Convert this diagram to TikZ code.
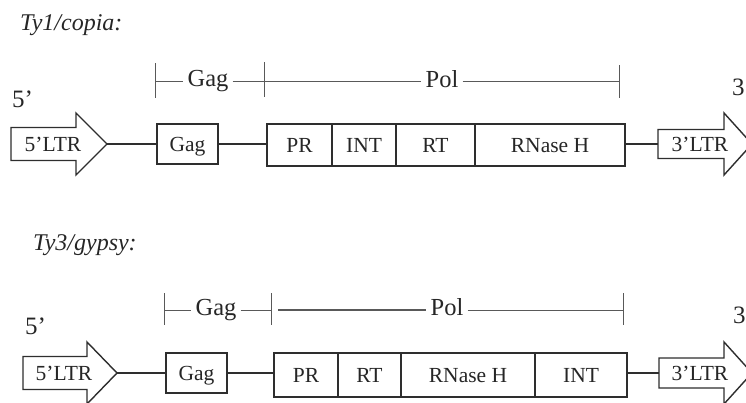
\documentclass[tikz,border=0pt]{standalone}
\usepackage{fontspec}
\setmainfont{Liberation Serif}

% Arrow-shaped LTR block: name, left, neck, tip, centre y, body half-height, head half-height
\newcommand{\ltrshape}[7]{%
  \draw[ink, fill=white] (#2,#5-#6) -- (#3,#5-#6) -- (#3,#5-#7) -- (#4,#5)
    -- (#3,#5+#7) -- (#3,#5+#6) -- (#2,#5+#6) -- cycle;
  \coordinate (#1-tip) at (#4,#5);
  \coordinate (#1-neck) at (#3,#5);
}

\begin{document}
\begin{tikzpicture}[x=1pt, y=-1pt,
  ink/.style={draw=black!82, line width=1.4pt},
  cell/.style={draw=black!82, line width=1.4pt, rectangle, anchor=north west,
    inner sep=0pt, outer sep=0pt, text height=14.6pt, text depth=0pt,
    font=\fontsize{21.5}{24}\selectfont, text=black!85},
  ltrlabel/.style={inner sep=0pt, text height=14.6pt, text depth=0pt,
    font=\fontsize{21.5}{24}\selectfont, text=black!85},
  link/.style={draw=black!82, line width=1.4pt},
  brk/.style={draw=black!65, line width=0.9pt},
  span/.style={anchor=base, inner xsep=4pt, inner ysep=0pt,
    font=\fontsize{24.5}{27}\selectfont, text=black!85},
  title/.style={anchor=base west, inner sep=0pt,
    font=\fontsize{24}{27}\selectfont\itshape, text=black!85},
  endmark/.style={anchor=base west, inner sep=0pt,
    font=\fontsize{25}{28}\selectfont, text=black!85}]

\useasboundingbox (0,0) rectangle (746,402);
\clip (0,0) rectangle (746,402);

% ---------------- Ty1/copia ----------------
\node[title] (t1) at (20,30) {Ty1/copia:};
\node[endmark] (p5a) at (12,107) {5’};
\node[endmark] (p3a) at (732,95) {3’};

% Gag / Pol extent brackets
\coordinate (g1l) at (155,81);
\coordinate (g1r) at (264,81);
\coordinate (p1r) at (619,81);
\draw[brk] (155,63) -- (155,98);
\draw[brk] (264,62) -- (264,97);
\draw[brk] (619,65) -- (619,98);
\node[span] (gagt1) at (208,86) {Gag};
\node[span] (polt1) at (442,87) {Pol};
\draw[brk] (g1l) -- (g1l -| gagt1.west);
\draw[brk] (g1l -| gagt1.east) -- (g1r);
\draw[brk] (g1r) -- (g1r -| polt1.west);
\draw[brk] (g1r -| polt1.east) -- (p1r);

% Elements
\ltrshape{l5a}{11}{76}{107}{144}{16.5}{31}
\node[ltrlabel] (l5at) at (53,144) {5’LTR};
\node[cell, minimum width=61, minimum height=40] (gag1) at (157,124) {Gag};
\node[cell, minimum width=65, minimum height=42] (pr1) at (267,124) {PR};
\node[cell, minimum width=64, minimum height=42] (int1) at (332,124) {INT};
\node[cell, minimum width=79, minimum height=42] (rt1) at (396,124) {RT};
\node[cell, minimum width=150, minimum height=42] (rh1) at (475,124) {RNase H};
\ltrshape{l3a}{658}{724}{752}{144}{14.5}{31}
\node[ltrlabel] (l3at) at (700,144) {3’LTR};

\draw[link] (l5a-tip) -- (l5a-tip -| gag1.west);
\draw[link] (l5a-tip -| gag1.east) -- (l5a-tip -| pr1.west);
\draw[link] (l3a-tip -| rh1.east) -- (l3a-tip -| 658,0);

% ---------------- Ty3/gypsy ----------------
\node[title] (t3) at (33,250) {Ty3/gypsy:};
\node[endmark] (p5b) at (25,334) {5’};
\node[endmark] (p3b) at (733,323) {3’};

\coordinate (g3l) at (164,310);
\coordinate (g3r) at (271,310);
\coordinate (p3l) at (278,310);
\coordinate (p3r) at (623,310);
\draw[brk] (164,293) -- (164,325);
\draw[brk] (271,293) -- (271,325);
\draw[brk] (623,293) -- (623,325);
\node[span] (gagt3) at (216,315) {Gag};
\node[span] (polt3) at (447,315) {Pol};
\draw[brk] (g3l) -- (g3l -| gagt3.west);
\draw[brk] (g3l -| gagt3.east) -- (g3r);
\draw[brk, line width=1.6pt] (p3l) -- (p3l -| polt3.west);
\draw[brk] (p3l -| polt3.east) -- (p3r);

\ltrshape{l5b}{23}{87}{117}{373}{16.5}{31}
\node[ltrlabel] (l5bt) at (64,373) {5’LTR};
\node[cell, minimum width=61, minimum height=40] (gag3) at (166,353) {Gag};
\node[cell, minimum width=64, minimum height=44] (pr3) at (274,353) {PR};
\node[cell, minimum width=63, minimum height=44] (rt3) at (338,353) {RT};
\node[cell, minimum width=134, minimum height=44] (rh3) at (401,353) {RNase H};
\node[cell, minimum width=92, minimum height=44] (int3) at (535,353) {INT};
\ltrshape{l3b}{659}{724}{752}{373}{15}{31}
\node[ltrlabel] (l3bt) at (700,373) {3’LTR};

\draw[link] (l5b-tip) -- (l5b-tip -| gag3.west);
\draw[link] (l5b-tip -| gag3.east) -- (l5b-tip -| pr3.west);
\draw[link] (l3b-tip -| int3.east) -- (l3b-tip -| 659,0);

\end{tikzpicture}
\end{document}
